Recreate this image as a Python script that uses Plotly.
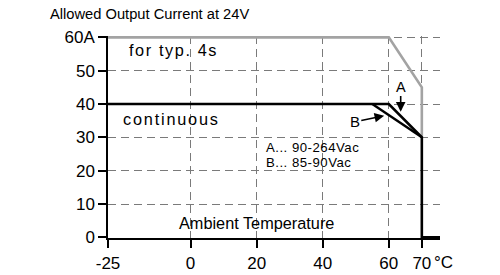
import plotly.graph_objects as go

# ---- data ----
peak_temp = [-25, 60, 70, 70]
peak_current = [60, 60, 45, 30]
contA_temp = [-25, 60, 70, 70, 75.5]
contA_current = [40, 40, 30, 0, 0]
contB_temp = [55, 70]
contB_current = [40, 30]

x_ticks = [-25, 0, 20, 40, 60, 70]
x_ticktext = ["-25", "0", "20", "40", "60", "70"]
y_ticks = [0, 10, 20, 30, 40, 50, 60]
y_ticktext = ["0", "10", "20", "30", "40", "50", "60A"]

FONT = "Liberation Sans, Arial, sans-serif"
GRID = "#7a7a7a"
TICKSIZE = 17

fig = go.Figure()
fig.add_trace(go.Scatter(x=peak_temp, y=peak_current, mode="lines",
                         line=dict(color="#a3a3a3", width=2.6), hoverinfo="skip"))
fig.add_trace(go.Scatter(x=contB_temp, y=contB_current, mode="lines",
                         line=dict(color="black", width=2.4), hoverinfo="skip"))
fig.add_trace(go.Scatter(x=contA_temp, y=contA_current, mode="lines",
                         line=dict(color="black", width=2.6), hoverinfo="skip"))

annotations = [
    dict(text="Allowed Output Current at 24V", xref="paper", yref="paper",
         x=(48 - 108) / 332, y=(238 - 14) / 202, xanchor="left", yanchor="middle",
         showarrow=False, font=dict(size=14.7)),
    dict(text='<span style="letter-spacing:1.6px">for typ. 4s</span>', xref="paper", yref="paper",
         x=(127 - 108) / 332, y=(238 - 50.5) / 202, xanchor="left", yanchor="middle",
         showarrow=False, font=dict(size=16.3)),
    dict(text='<span style="letter-spacing:1.8px">continuous</span>', xref="paper", yref="paper",
         x=(120.5 - 108) / 332, y=(238 - 119) / 202, xanchor="left", yanchor="middle",
         showarrow=False, font=dict(size=16.3)),
    dict(text='<span style="letter-spacing:0.5px">A... 90-264Vac</span>', xref="paper", yref="paper",
         x=(264 - 108) / 332, y=(238 - 147.6) / 202, xanchor="left", yanchor="middle",
         showarrow=False, font=dict(size=13.2)),
    dict(text='<span style="letter-spacing:0.5px">B... 85-90Vac</span>', xref="paper", yref="paper",
         x=(264 - 108) / 332, y=(238 - 162.4) / 202, xanchor="left", yanchor="middle",
         showarrow=False, font=dict(size=13.2)),
    dict(text="Ambient Temperature", xref="paper", yref="paper",
         x=(256.7 - 108) / 332, y=(238 - 222.5) / 202, xanchor="center", yanchor="middle",
         showarrow=False, font=dict(size=16.3)),
    dict(text="°C", xref="x", yref="paper", x=70, y=(238 - 262.5) / 202,
         xanchor="left", yanchor="middle", xshift=10, showarrow=False, font=dict(size=TICKSIZE)),
    dict(text="A", xref="x", yref="y", x=63.6, y=37.7, axref="x", ayref="y",
         ax=63.6, ay=45.25, showarrow=True, arrowhead=2, arrowsize=1.2, arrowwidth=1.6,
         arrowcolor="black", standoff=0, font=dict(size=14.5)),
    dict(text="B", xref="x", yref="y", x=58.6, y=36.5, axref="x", ayref="y",
         ax=49.7, ay=34.65, showarrow=True, arrowhead=2, arrowsize=1.2, arrowwidth=1.6,
         arrowcolor="black", standoff=0, font=dict(size=15)),
]

fig.update_layout(
    width=500, height=275,
    margin=dict(l=108, r=60, t=36, b=37, autoexpand=False),
    paper_bgcolor="white", plot_bgcolor="white",
    showlegend=False,
    font=dict(family=FONT, size=16, color="black"),
    annotations=annotations,
)
fig.update_xaxes(range=[-25, 75.5], tickvals=x_ticks, ticktext=x_ticktext,
                 showline=True, linecolor="black", linewidth=1.5,
                 ticks="outside", ticklen=8, tickwidth=1.5, tickcolor="black",
                 ticklabelstandoff=1, automargin=False,
                 showgrid=True, gridcolor=GRID, gridwidth=1, griddash="8px,5px",
                 zeroline=False, tickfont=dict(size=TICKSIZE), fixedrange=True)
fig.update_yaxes(range=[-0.2, 60.4], tickvals=y_ticks, ticktext=y_ticktext,
                 showline=True, linecolor="black", linewidth=1.5,
                 ticks="outside", ticklen=8, tickwidth=1.5, tickcolor="black",
                 automargin=False,
                 showgrid=True, gridcolor=GRID, gridwidth=1, griddash="8px,5px",
                 zeroline=False, tickfont=dict(size=TICKSIZE), fixedrange=True)

fig.write_html("out.html", config=dict(displayModeBar=False))
